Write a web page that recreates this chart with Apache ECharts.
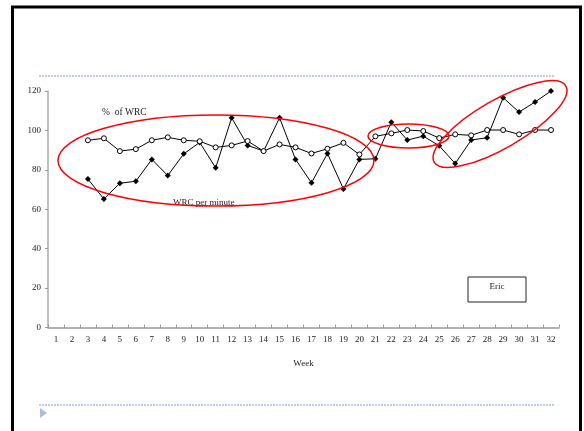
<!DOCTYPE html>
<html>
<head>
<meta charset="utf-8">
<script src="https://cdn.jsdelivr.net/npm/echarts@6/dist/echarts.min.js"></script>
<style>
  html, body { margin: 0; padding: 0; background: #fff; }
  #chart { width: 584px; height: 431px; }
</style>
</head>
<body>
<div id="chart"></div>
<script>
// weeks on the x axis
const weeks = ['1','2','3','4','5','6','7','8','9','10','11','12','13','14','15','16',
               '17','18','19','20','21','22','23','24','25','26','27','28','29','30','31','32'];

// % of WRC (open circles)
const pctWRC = [null, null, 95, 96, 89.5, 90.5, 95, 96.5, 95, 94.5, 91.4, 92.4, 94.6, 89.5, 92.9, 91.4,
                88.3, 90.7, 93.7, 87.8, 97, 98.5, 100.2, 99.7, 96.1, 98, 97.5, 100.2, 100.2, 98, 100.2, 100.2];

// WRC per minute (filled markers)
const wrcPerMin = [null, null, 75.3, 65.2, 73.2, 74.2, 85.3, 77.1, 88.1, 93.9, 81, 106.4, 92.4, 89.5, 106.4, 85.3,
                   73.4, 88.3, 70.3, 85.3, 85.6, 104.2, 95.1, 97.1, 92.2, 83.2, 95.1, 96.3, 116.6, 109.3, 114.4, 120];

const yTicks = [0, 20, 40, 60, 80, 100, 120];

const serif = '"Liberation Serif", "DejaVu Serif", serif';
const dashBlue = '#a9bfdb';

const chart = echarts.init(document.getElementById('chart'));

const option = {
    backgroundColor: '#fff',
    animation: false,
    grid: { left: 48, right: 25, top: 91, bottom: 103.5 },
    xAxis: {
        type: 'category',
        data: weeks,
        boundaryGap: true,
        name: 'Week',
        nameLocation: 'middle',
        nameGap: 32,
        nameTextStyle: { color: '#222', fontFamily: serif, fontSize: 9 },
        axisLine: { lineStyle: { color: '#999', width: 1.5 } },
        axisTick: { show: true, inside: true, length: 3, lineStyle: { color: '#999' } },
        axisLabel: { color: '#222', fontFamily: serif, fontSize: 9, margin: 8, interval: 0 },
        splitLine: { show: false }
    },
    yAxis: {
        type: 'value',
        min: yTicks[0],
        max: yTicks[yTicks.length - 1],
        interval: 20,
        axisLine: { show: true, lineStyle: { color: '#aaa', width: 1.5 } },
        axisTick: { show: true, length: 3, lineStyle: { color: '#999' } },
        axisLabel: { color: '#222', fontFamily: serif, fontSize: 9, margin: 7 },
        splitLine: { show: false }
    },
    series: [
        {
            name: '% of WRC',
            type: 'line',
            data: pctWRC,
            symbol: 'circle',
            symbolSize: 5,
            showAllSymbol: true,
            clip: false,
            lineStyle: { color: '#000', width: 1 },
            itemStyle: { color: '#fff', borderColor: '#000', borderWidth: 1 },
            z: 3
        },
        {
            name: 'WRC per minute',
            type: 'line',
            data: wrcPerMin,
            symbol: 'diamond',
            symbolSize: 6,
            showAllSymbol: true,
            clip: false,
            lineStyle: { color: '#000', width: 1 },
            itemStyle: { color: '#000', borderColor: '#000', borderWidth: 0 },
            z: 2
        }
    ],
    graphic: [
        // slide frame
        { type: 'rect', shape: { x: 12.5, y: 7, width: 568, height: 440 },
          style: { fill: 'none', stroke: '#000', lineWidth: 3 }, silent: true },
        // dotted rules
        { type: 'line', shape: { x1: 39, y1: 76, x2: 555, y2: 76 },
          style: { stroke: dashBlue, lineWidth: 1.5, lineDash: [2, 1] }, silent: true },
        { type: 'line', shape: { x1: 39, y1: 405, x2: 555, y2: 405 },
          style: { stroke: dashBlue, lineWidth: 1.5, lineDash: [2, 1] }, silent: true },
        { type: 'polygon', shape: { points: [[40, 408], [47, 413], [40, 418]] },
          style: { fill: dashBlue }, silent: true },
        // series captions
        { type: 'text', style: { text: '%  of WRC', x: 102, y: 112, font: '9.5px ' + serif,
          fill: '#222', textVerticalAlign: 'middle' }, z: 10 },
        { type: 'text', style: { text: 'WRC per minute', x: 173, y: 203, font: '9px ' + serif,
          fill: '#222', textVerticalAlign: 'middle' }, z: 10 },
        // Eric box
        { type: 'rect', shape: { x: 468, y: 277, width: 58, height: 25 },
          style: { fill: '#fff', stroke: '#222', lineWidth: 1 }, z: 10 },
        { type: 'text', style: { text: 'Eric', x: 497, y: 287, font: '9px ' + serif,
          fill: '#222', textAlign: 'center', textVerticalAlign: 'middle' }, z: 11 },
        // red ellipses
        { type: 'ellipse', shape: { cx: 216, cy: 160.5, rx: 158, ry: 45.5 },
          style: { fill: 'none', stroke: '#f00', lineWidth: 1.5 }, z: 20, silent: true },
        { type: 'ellipse', shape: { cx: 408.5, cy: 136, rx: 40.5, ry: 12 },
          style: { fill: 'none', stroke: '#f00', lineWidth: 1.5 }, z: 20, silent: true },
        { type: 'ellipse', x: 500, y: 124, rotation: Math.PI / 6,
          shape: { cx: 0, cy: 0, rx: 76, ry: 24 },
          style: { fill: 'none', stroke: '#f00', lineWidth: 1.5 }, z: 20, silent: true }
    ]
};

chart.setOption(option);
</script>
</body>
</html>
